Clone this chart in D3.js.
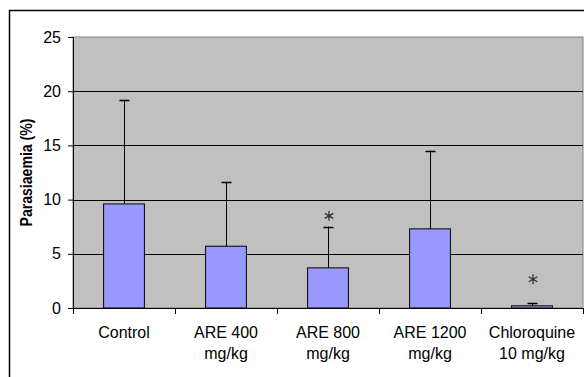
<!DOCTYPE html>
<html>
<head>
<meta charset="utf-8">
<script src="https://cdn.jsdelivr.net/npm/d3@7"></script>
<style>
  body { margin: 0; background: #fff; }
  svg { display: block; font-family: "Liberation Sans", Arial, sans-serif; }
</style>
</head>
<body>
<script>
// data
const groups = ["Control", "ARE 400 mg/kg", "ARE 800 mg/kg", "ARE 1200 mg/kg", "Chloroquine 10 mg/kg"];
const groupLines = [["Control"], ["ARE 400", "mg/kg"], ["ARE 800", "mg/kg"], ["ARE 1200", "mg/kg"], ["Chloroquine", "10 mg/kg"]];
const means = [9.6, 5.7, 3.7, 7.3, 0.2];
const errTop = [19.2, 11.6, 7.5, 14.5, 0.45];
// asterisks marking significance, at the height (in %) where they sit
const starAt = [null, null, 8.5, null, 2.65];
const yTicks = [0, 5, 10, 15, 20, 25];

const width = 584, height = 377;
const margin = {top: 37, right: 1, bottom: 69, left: 73};

const svg = d3.select("body").append("svg")
  .attr("width", width)
  .attr("height", height);

// outer chart frame (runs off the right and bottom edge)
svg.append("rect")
  .attr("x", 9.5).attr("y", 10.5)
  .attr("width", width + 20).attr("height", height + 20)
  .attr("fill", "#fff")
  .attr("stroke", "#000")
  .attr("stroke-width", 1.5);

const x = d3.scaleBand()
  .domain(groups)
  .range([margin.left, width - margin.right])
  .paddingInner(0.6)
  .paddingOuter(0.3);

const slot = d3.scaleBand()
  .domain(groups)
  .range([margin.left, width - margin.right]);

const y = d3.scaleLinear()
  .domain([0, 25])
  .range([height - margin.bottom, margin.top]);

// plot area
svg.append("rect")
  .attr("x", margin.left).attr("y", margin.top)
  .attr("width", width - margin.right - margin.left)
  .attr("height", y(0) - margin.top)
  .attr("fill", "#c0c0c0")
  .attr("stroke", "#808080")
  .attr("stroke-width", 1);

// gridlines
svg.append("g")
  .selectAll("line")
  .data(yTicks.filter(d => d > 0 && d < 25))
  .join("line")
    .attr("x1", margin.left).attr("x2", width - margin.right)
    .attr("y1", d => Math.round(y(d)) + 0.5).attr("y2", d => Math.round(y(d)) + 0.5)
    .attr("stroke", "#000");

// y axis
const yAxis = svg.append("g")
  .attr("transform", `translate(${margin.left},0)`)
  .call(d3.axisLeft(y).tickValues(yTicks).tickSize(5).tickPadding(7))
  .call(g => g.select(".domain").attr("stroke", "#000"));
yAxis.selectAll("text").attr("font-size", 16).attr("fill", "#000");

// x axis: tick marks at category boundaries
const xAxisG = svg.append("g");
xAxisG.append("line")
  .attr("x1", margin.left).attr("x2", width - margin.right)
  .attr("y1", Math.round(y(0)) + 0.5).attr("y2", Math.round(y(0)) + 0.5)
  .attr("stroke", "#000");
xAxisG.selectAll(".tk")
  .data(groups.map(g => slot(g)).concat([width - margin.right]))
  .join("line")
    .attr("class", "tk")
    .attr("x1", d => Math.round(d) + 0.5).attr("x2", d => Math.round(d) + 0.5)
    .attr("y1", y(0)).attr("y2", y(0) + 6)
    .attr("stroke", "#000");

xAxisG.selectAll(".lbl")
  .data(groups)
  .join("text")
    .attr("class", "lbl")
    .attr("x", d => x(d) + x.bandwidth() / 2)
    .attr("y", y(0) + 29.5)
    .attr("text-anchor", "middle")
    .attr("font-size", 16)
    .selectAll("tspan")
    .data((d, i) => groupLines[i])
    .join("tspan")
      .attr("x", function () { return this.parentNode.getAttribute("x"); })
      .attr("dy", (d, i) => i === 0 ? 0 : 21.5)
      .text(d => d);

// bars
svg.append("g")
  .selectAll("rect")
  .data(groups)
  .join("rect")
    .attr("x", d => x(d))
    .attr("y", (d, i) => y(means[i]))
    .attr("width", x.bandwidth())
    .attr("height", (d, i) => y(0) - y(means[i]))
    .attr("fill", "#9999ff")
    .attr("stroke", "#000")
    .attr("stroke-width", 1);

// error bars (upper only)
const err = svg.append("g").attr("stroke", "#000").attr("stroke-width", 1);
groups.forEach((g, i) => {
  const cx = Math.round(x(g) + x.bandwidth() / 2) + 0.5;
  err.append("line")
    .attr("x1", cx).attr("x2", cx)
    .attr("y1", y(means[i])).attr("y2", y(errTop[i]));
  err.append("line")
    .attr("x1", cx - 5).attr("x2", cx + 5)
    .attr("y1", Math.round(y(errTop[i])) + 0.5).attr("y2", Math.round(y(errTop[i])) + 0.5)
    .attr("stroke-width", 1.5);
});

// significance stars
svg.append("g")
  .selectAll("path")
  .data(groups.filter((g, i) => starAt[i] !== null))
  .join("path")
    .attr("transform", d => `translate(${x(d) + x.bandwidth() / 2 + 1},${y(starAt[groups.indexOf(d)])})`)
    .attr("d", d3.symbol(d3.symbolAsterisk, 68))
    .attr("fill", "none")
    .attr("stroke", "#333")
    .attr("stroke-width", 1.3);

// y title
svg.append("text")
  .attr("transform", `translate(32,${(margin.top + y(0)) / 2}) rotate(-90)`)
  .attr("text-anchor", "middle")
  .attr("font-size", 16)
  .attr("font-weight", "bold")
  .attr("textLength", 108)
  .attr("lengthAdjust", "spacingAndGlyphs")
  .text("Parasiaemia (%)");
</script>
</body>
</html>
